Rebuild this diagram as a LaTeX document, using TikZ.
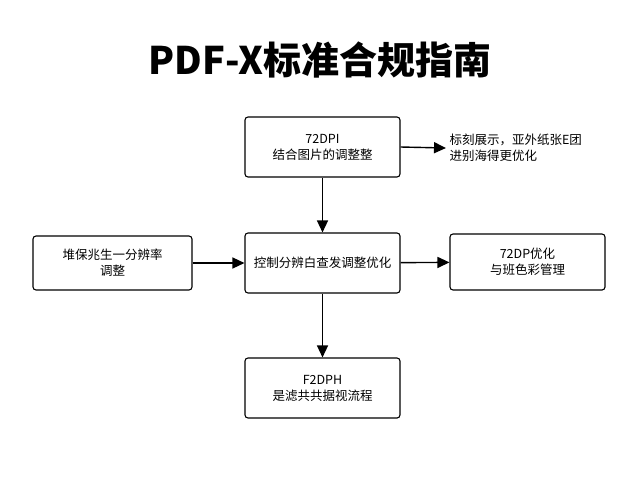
\documentclass[tikz,border=0pt]{standalone}
\usepackage{fontspec}
\setmainfont{Noto Sans CJK SC}
\usetikzlibrary{arrows.meta}
\begin{document}
\begin{tikzpicture}[x=1pt,y=-1pt,
  box/.style={draw,line width=1.1pt,rounded corners=3pt,align=center,font=\fontsize{12.5}{16}\selectfont,inner sep=0},
  arr/.style={-{Triangle[length=12pt,width=11pt]},line width=1.4pt}]
\useasboundingbox (0,0) rectangle (640,480);
\node[font=\fontsize{38}{40}\selectfont\bfseries] (title) at (320,60) {PDF-X标准合规指南};
\node[box,minimum width=155pt,minimum height=60pt] (top) at (322.5,147) {72DPI\\结合图片的调整整};
\node[box,minimum width=155pt,minimum height=60pt] (mid) at (322.5,263) {控制分辨白查发调整优化};
\node[box,minimum width=159pt,minimum height=54pt] (left) at (112.5,263) {堆保兆生一分辨率\\调整};
\node[box,minimum width=155pt,minimum height=56pt] (right) at (527.5,262) {72DP优化\\与班色彩管理};
\node[box,minimum width=155pt,minimum height=60pt] (bot) at (322.5,388) {F2DPH\\是滤共共据视流程};
\node[anchor=west,align=left,font=\fontsize{12.5}{16}\selectfont] (note) at (446,148) {标刻展示，亚外纸张E团\\进别海得更优化};
\draw[arr] (top) -- (mid);
\draw[arr] (mid) -- (bot);
\draw[arr] (left) -- (mid);
\draw[arr] (mid) -- (right);
\draw[arr] (top.east) -- (note.west);
\end{tikzpicture}
\end{document}
